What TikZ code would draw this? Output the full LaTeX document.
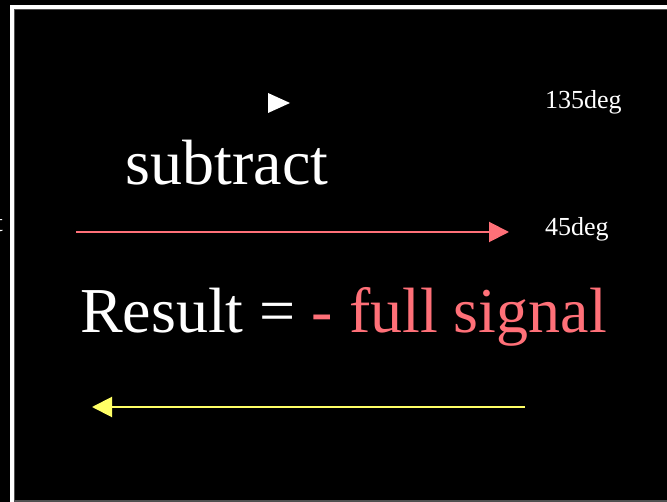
\documentclass[tikz,border=0pt]{standalone}
\usepackage{fontspec}
\setmainfont{Liberation Serif}
\usetikzlibrary{arrows.meta,positioning}
\definecolor{mypink}{HTML}{FF7078}
\definecolor{myyellow}{HTML}{FFFF66}
\definecolor{mygrey}{HTML}{505050}
\tikzset{
  big/.style={text=white, inner sep=0pt, font=\fontsize{64}{70}\selectfont},
  small/.style={text=white, inner sep=0pt, font=\fontsize{26}{30}\selectfont},
  arr/.style={-{Triangle[length=20pt, width=20pt]}, line width=2pt},
}
\begin{document}
\begin{tikzpicture}[x=1pt, y=-1pt]
    \useasboundingbox[fill=black] (0,0) rectangle (667,502);
    \draw[white, line width=4pt] (11.5,502) -- (11.5,7) -- (667,7);
    \draw[mygrey, line width=1pt] (14,501) -- (14,10) -- (667,10);
    \draw[mygrey, line width=1pt] (14,501) -- (667,501);
    \node[small, anchor=base east] (cut) at (3,232) {t};
    \node[big, anchor=base] (sub) at (227,185) {subtract};
    \node[small, anchor=base west] (deg135) at (545,109) {135deg};
    \node[small, anchor=base west] (deg45) at (545,236) {45deg};
    \node[big, anchor=base west] (res) at (80,333) {Result = \textcolor{mypink}{- full signal}};
    \coordinate (tipa) at (268,103); \coordinate (tipb) at (290,103);
    \fill[white] (tipa) ++(0,-10) -- (tipb) -- (268,113) -- cycle;
    \coordinate (r1) at (76,232); \coordinate (r2) at (509,232);
    \draw[arr, mypink] (r1) -- (r2);
    \coordinate (y1) at (525,407); \coordinate (y2) at (92,407);
    \draw[arr, myyellow] (y1) -- (y2);
\end{tikzpicture}
\end{document}
